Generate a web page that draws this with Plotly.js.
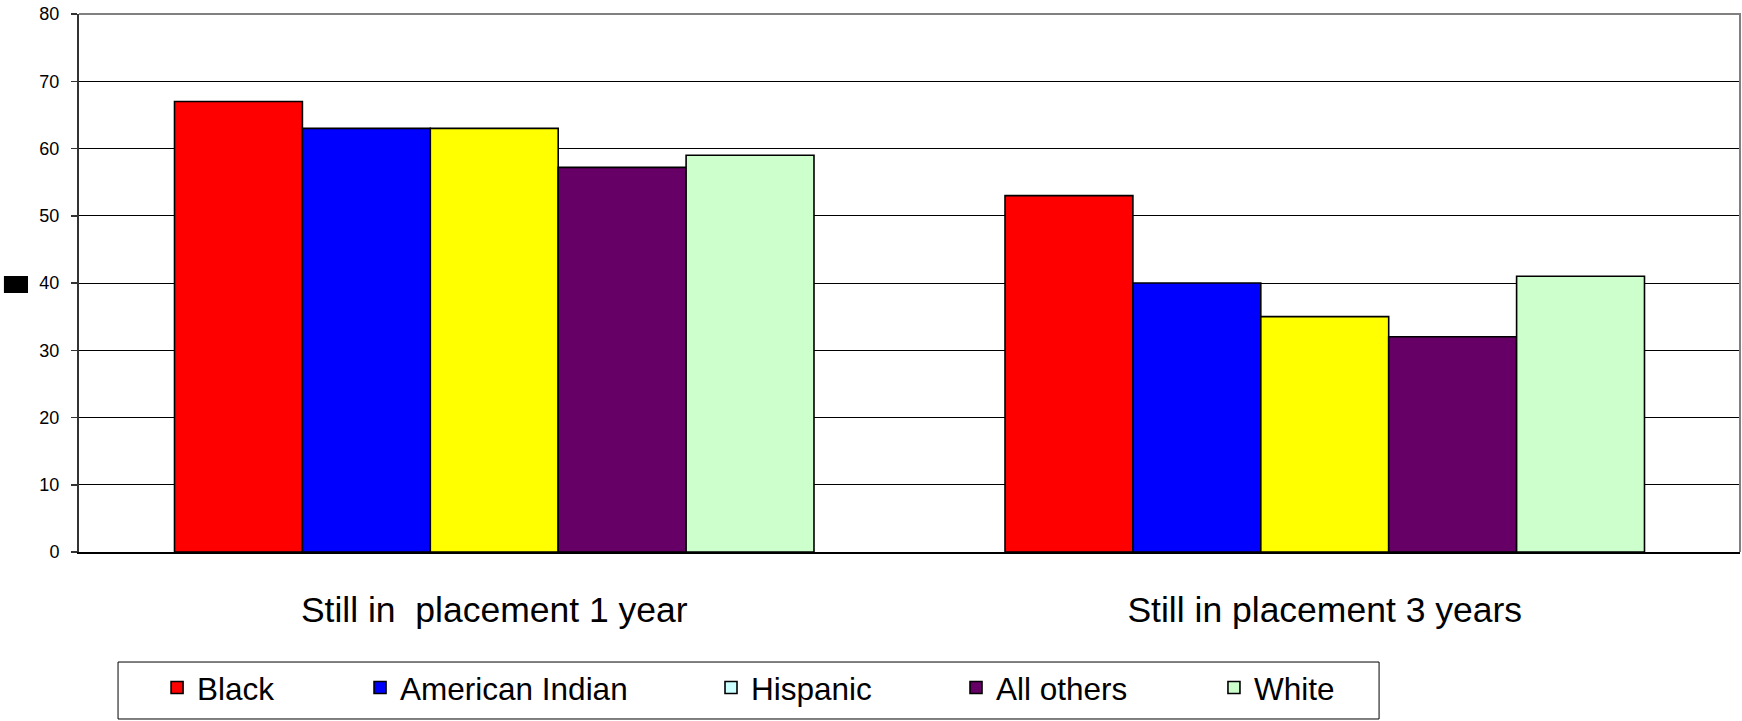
<!DOCTYPE html>
<html>
<head>
<meta charset="utf-8">
<script src="https://cdn.plot.ly/plotly-3.0.1.min.js"></script>
<style>
  html, body { margin: 0; padding: 0; background: #ffffff; }
  #chart { width: 1742px; height: 721px; }
</style>
</head>
<body>
<div id="chart"></div>
<script>
// ---- data ----
const categories = ['Still in\u00a0 placement 1 year', 'Still in placement 3 years'];
const seriesNames = ['Black', 'American Indian', 'Hispanic', 'All others', 'White'];
const black = [67, 53];
const americanIndian = [63, 40];
const hispanic = [63, 35];
const allOthers = [57.2, 32];
const white = [59, 41];
const yTicks = [0, 10, 20, 30, 40, 50, 60, 70, 80];

// ---- styles ----
const barColors = ['#FF0000', '#0000FF', '#FFFF00', '#660066', '#CCFFCC'];
const legendColors = ['#FF0000', '#0000FF', '#CCFFFF', '#660066', '#CCFFCC'];
const seriesValues = [black, americanIndian, hispanic, allOthers, white];
const legendIds = ['legend', 'legend2', 'legend3', 'legend4', 'legend5'];
const legendX = [0.0470, 0.1692, 0.3805, 0.5280, 0.6833];
const FONT = '"Liberation Sans", Arial, Helvetica, sans-serif';

const traces = [];
seriesValues.forEach((vals, i) => {
  const legendDiffers = legendColors[i] !== barColors[i];
  traces.push({
    type: 'bar',
    name: seriesNames[i],
    x: categories,
    y: vals,
    marker: { color: barColors[i], line: { color: '#000000', width: 1.6 } },
    showlegend: !legendDiffers,
    legend: legendIds[i],
    hoverinfo: 'x+y+name'
  });
  if (legendDiffers) {
    // legend-only entry drawn with the legend colour used in the original chart
    traces.push({
      type: 'bar',
      name: seriesNames[i],
      x: categories,
      y: vals.map(() => null),
      xaxis: 'x2',
      yaxis: 'y2',
      marker: { color: legendColors[i], line: { color: '#000000', width: 1.6 } },
      showlegend: true,
      legend: legendIds[i],
      hoverinfo: 'skip'
    });
  }
});

const layout = {
  width: 1742,
  height: 721,
  margin: { l: 79, r: 2, t: 14, b: 169 },
  paper_bgcolor: '#ffffff',
  plot_bgcolor: '#ffffff',
  barmode: 'group',
  bargap: 0.23,
  bargroupgap: 0,
  font: { family: FONT, color: '#000000' },
  xaxis: {
    type: 'category',
    showgrid: false,
    showline: true,
    linecolor: '#000000',
    linewidth: 1.5,
    ticks: '',
    tickfont: { family: FONT, size: 35.5, color: '#000000' },
    ticklabelstandoff: 26,
    zeroline: false,
    fixedrange: true
  },
  yaxis: {
    range: [0, 80],
    tickvals: yTicks,
    ticktext: yTicks.map(String),
    showgrid: true,
    gridcolor: '#000000',
    gridwidth: 1,
    showline: true,
    linecolor: '#333333',
    linewidth: 2,
    ticks: 'outside',
    ticklen: 6,
    tickcolor: '#333333',
    tickwidth: 1.5,
    tickfont: { family: FONT, size: 18, color: '#000000' },
    ticklabelstandoff: 8,
    zeroline: false,
    fixedrange: true
  },
  xaxis2: { type: 'category', overlaying: 'x', visible: false, fixedrange: true },
  yaxis2: { overlaying: 'y', visible: false, range: [0, 80], fixedrange: true },
  shapes: [
    // plot area border (top and right, grey)
    { type: 'path', xref: 'paper', yref: 'paper', path: 'M0,1 L1,1 L1,0',
      line: { color: '#808080', width: 2 }, layer: 'above' },
    // legend frame
    { type: 'rect', xref: 'paper', yref: 'paper', x0: 0.0235, x1: 0.7827, y0: -0.3104, y1: -0.2045,
      line: { color: '#000000', width: 1 }, fillcolor: 'rgba(0,0,0,0)' },
    // black block at the left of the value axis
    { type: 'rect', xref: 'paper', yref: 'paper', x0: -0.0452, x1: -0.0307, y0: 0.4814, y1: 0.513,
      line: { width: 0 }, fillcolor: '#000000' }
  ]
};

legendIds.forEach((id, i) => {
  layout[id] = {
    x: legendX[i],
    xanchor: 'left',
    y: -0.252,
    yanchor: 'middle',
    orientation: 'h',
    bgcolor: 'rgba(0,0,0,0)',
    borderwidth: 0,
    font: { family: FONT, size: 31.5, color: '#000000' }
  };
});

Plotly.newPlot('chart', traces, layout, { staticPlot: true, displayModeBar: false });
</script>
</body>
</html>
